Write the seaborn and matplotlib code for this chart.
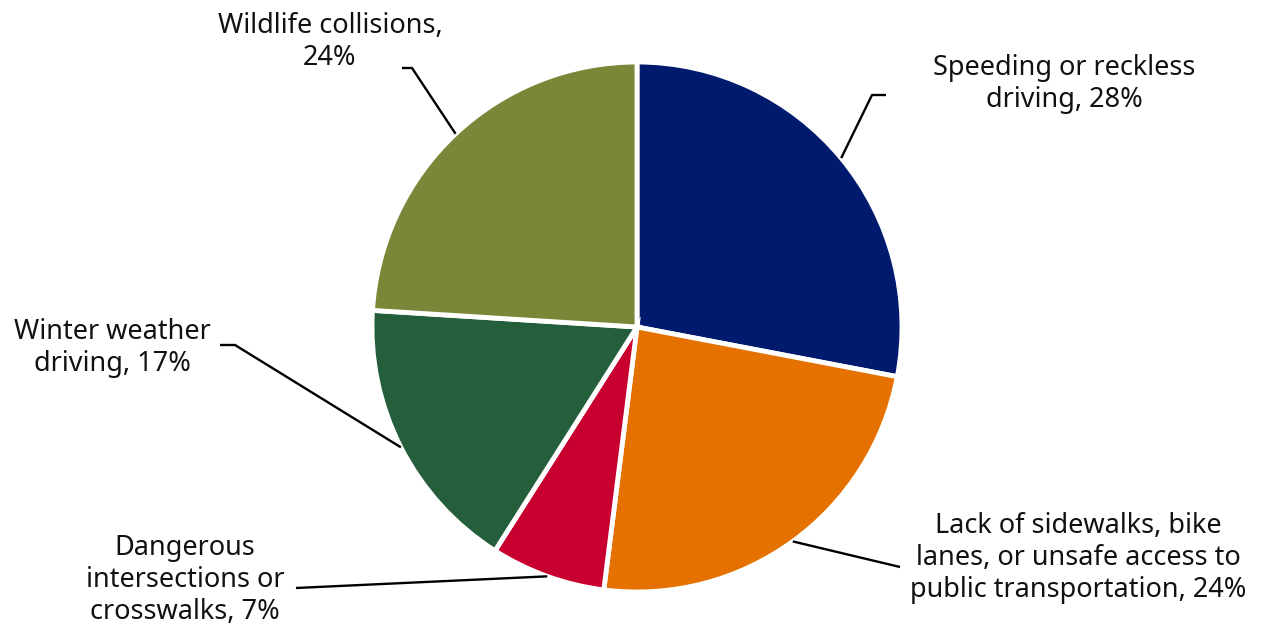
import numpy as np
import matplotlib
matplotlib.use("Agg")
import matplotlib.pyplot as plt
import seaborn as sns

categories = ["Speeding or reckless\ndriving",
              "Lack of sidewalks, bike\nlanes, or unsafe access to\npublic transportation",
              "Dangerous\nintersections or\ncrosswalks",
              "Winter weather\ndriving",
              "Wildlife collisions,\n"]
values = [28, 24, 7, 17, 24]
colors = ["#001A6E", "#E57200", "#C8002F", "#245E3A", "#7A8638"]

sns.set_theme(style="white")
plt.rcParams['font.family'] = ['Noto Sans', 'DejaVu Sans']

W, H = 1267, 631
fig = plt.figure(figsize=(W / 100, H / 100), dpi=100)
ax = fig.add_axes([0, 0, 1, 1])

cx, cy, R = 637, H - 327, 265
wedges, _ = ax.pie(values, colors=colors, startangle=90, counterclock=False,
                   center=(cx, cy), radius=R, explode=[0.012] * len(values),
                   wedgeprops=dict(edgecolor="white", linewidth=3.5), frame=True)
ax.set_xlim(0, W)
ax.set_ylim(0, H)
ax.set_aspect('equal')
ax.axis('off')

# label layout (pixel coordinates, y from top): elbow points and text anchors
layout = [
    dict(elbow=[(872, 95), (886, 95)], text=(1064, 84)),
    dict(elbow=[(900, 567)], text=(1078, 558)),
    dict(elbow=[(296, 588)], text=(185, 580)),
    dict(elbow=[(235, 345), (220, 345)], text=(112, 348)),
    dict(elbow=[(412, 68), (402, 68)], text=(330, 42)),
]

for w, lay, lbl, val in zip(wedges, layout, categories, values):
    ang = np.deg2rad((w.theta1 + w.theta2) / 2)
    ax_pt = (w.center[0] + R * np.cos(ang), w.center[1] + R * np.sin(ang))
    pts = [ax_pt] + [(x, H - y) for x, y in lay["elbow"]]
    xs, ys = zip(*pts)
    ax.plot(xs, ys, color="black", lw=1.7, solid_capstyle="butt")
    sep = "" if lbl.endswith("\n") else ", "
    ax.text(lay["text"][0], H - lay["text"][1], f"{lbl}{sep}{val}%",
            ha="center", va="center", fontsize=19.5, color="#111111", linespacing=1.2)

fig.savefig("out.png", dpi=100)
